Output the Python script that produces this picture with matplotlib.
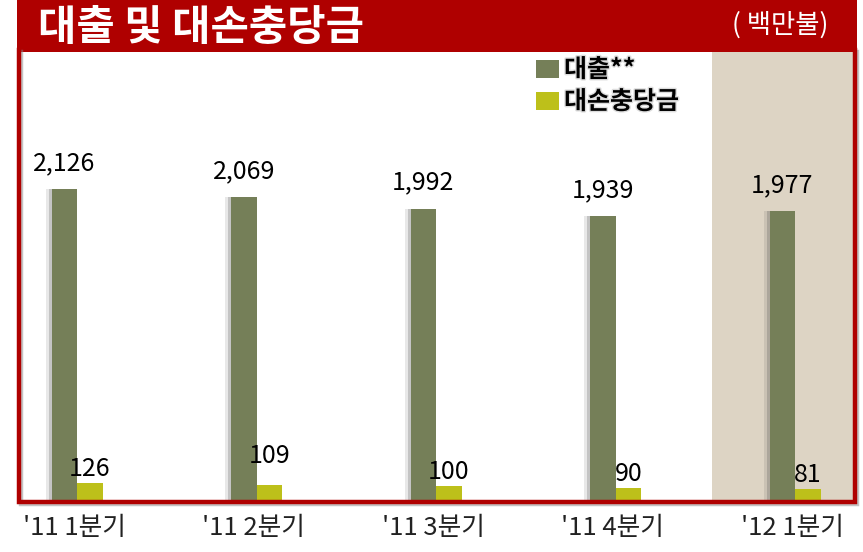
import matplotlib
matplotlib.use("Agg")
import matplotlib.pyplot as plt
from matplotlib.patches import Rectangle
from matplotlib.lines import Line2D
import matplotlib.patheffects as pe
import numpy as np

plt.rcParams['font.family'] = ['Noto Sans CJK KR', 'DejaVu Sans']

categories = ["'11 1분기", "'11 2분기", "'11 3분기", "'11 4분기", "'12 1분기"]
loans = [2126, 2069, 1992, 1939, 1977]
provisions = [126, 109, 100, 90, 81]
loan_labels = ["2,126", "2,069", "1,992", "1,939", "1,977"]
prov_labels = ["126", "109", "100", "90", "81"]
series_names = ["대출**", "대손충당금"]
title = "대출 및 대손충당금"
unit = "( 백만불)"

RED = '#AF0000'
OLIVE = '#757F58'
YELLOW = '#BDC01A'
BEIGE = '#DDD4C4'

W, H = 863, 552
fig = plt.figure(figsize=(W/100, H/100), dpi=100)

def fx(px): return px / W
def fy(py): return 1 - py / H

# title bar
fig.patches.append(Rectangle((fx(17), fy(52)), fx(857) - fx(17), fy(0) - fy(52),
                             transform=fig.transFigure, facecolor=RED, edgecolor='none', zorder=0))
fig.text(fx(38), fy(28), title, color='white', fontsize=30, fontweight='bold',
         ha='left', va='center')
fig.text(fx(828), fy(25), unit, color='white', fontsize=19, fontstyle='italic',
         ha='right', va='center')

# axes area
left_px, right_px, top_px, base_px = 21, 853, 52, 501
ax = fig.add_axes([fx(left_px), fy(base_px), fx(right_px) - fx(left_px), fy(top_px) - fy(base_px)])
spacing = 179.5
c0 = 77
ax.set_xlim(-(c0 - left_px) / spacing, (right_px - c0) / spacing)
k = (base_px - 189) / loans[0]
ax.set_ylim(0, (base_px - top_px) / k)
ax.axis('off')

x = np.arange(len(categories))
bw = 25.5 / spacing
ax.axvspan((712 - c0) / spacing, (right_px - c0) / spacing, color=BEIGE, zorder=0, lw=0)

shadow = [pe.SimplePatchShadow(offset=(-4, 0), shadow_rgbFace='#444444', alpha=0.12),
          pe.SimplePatchShadow(offset=(-2, 0), shadow_rgbFace='#444444', alpha=0.22), pe.Normal()]
b1 = ax.bar(x - bw/2, loans, width=bw, color=OLIVE, zorder=3, path_effects=shadow)
b2 = ax.bar(x + bw/2, provisions, width=bw, color=YELLOW, zorder=3)

off1 = 26 / k
off2 = 14 / k
for i in range(len(x)):
    ax.text(x[i] - bw/2, loans[i] + off1, loan_labels[i], ha='center', va='center',
            fontsize=18, fontweight='light', color='black', zorder=5)
    ax.text(x[i] + bw/2, provisions[i] + off2 + (15 / k if i == 1 else 0), prov_labels[i],
            ha='center', va='center', fontsize=18, fontweight='light', color='black', zorder=5)

# x labels
for i, c in enumerate(categories):
    px = c0 + i * spacing
    fig.text(fx(px - 3), fy(528), c, ha='center', va='center', fontsize=18.5,
             fontweight='light', color='#222222')

# red frame (left, right, bottom)
frame_pe = [pe.SimpleLineShadow(offset=(1.5, -1.5), shadow_color='#888888', alpha=0.5), pe.Normal()]
xs = [fx(19), fx(19), fx(855), fx(855)]
ys = [fy(50), fy(502), fy(502), fy(50)]
fig.lines.append(Line2D(xs, ys, transform=fig.transFigure, color=RED, linewidth=3.2,
                        solid_joinstyle='miter', zorder=10, path_effects=frame_pe))

# legend
lg = [(OLIVE, 69, series_names[0]), (YELLOW, 101, series_names[1])]
for col, yc, name in lg:
    fig.patches.append(Rectangle((fx(536), fy(yc + 9)), fx(559) - fx(536), fy(yc - 9) - fy(yc + 9),
                                 transform=fig.transFigure, facecolor=col, edgecolor='none', zorder=11))
    fig.text(fx(564), fy(yc + 1), name, ha='left', va='center', fontsize=18, fontweight='bold',
             color='black', zorder=11,
             path_effects=[pe.withStroke(linewidth=2, foreground='#dddddd')])

fig.savefig('out.png', dpi=100)
